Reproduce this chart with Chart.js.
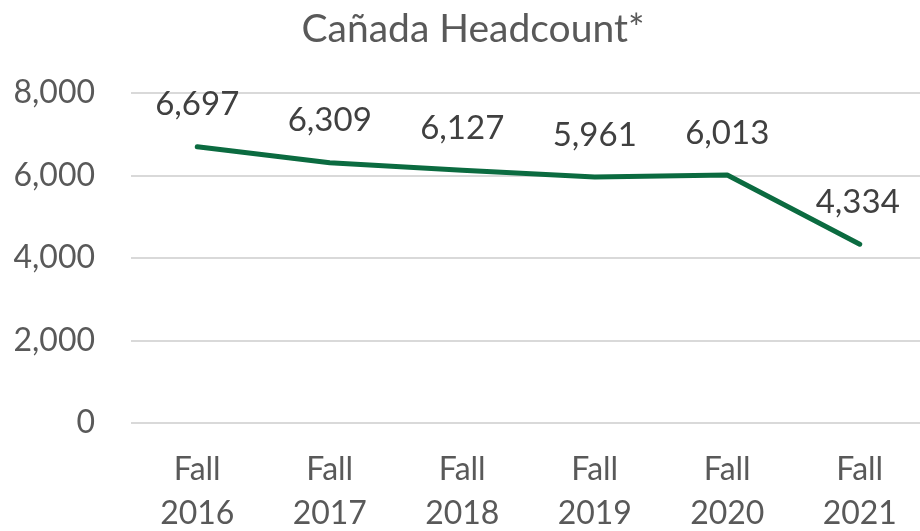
<!DOCTYPE html>
<html>
<head>
<meta charset="utf-8">
<script src="https://cdn.jsdelivr.net/npm/chart.js@4.4.0/dist/chart.umd.min.js"></script>
<style>
html,body{margin:0;padding:0;background:#fff;overflow:hidden;}
#wrap{position:relative;width:926px;height:531px;}
</style>
</head>
<body>
<div id="wrap"><canvas id="c" width="926" height="531"></canvas></div>
<script>
const categories = [["Fall","2016"],["Fall","2017"],["Fall","2018"],["Fall","2019"],["Fall","2020"],["Fall","2021"]];
const headcount = [6697, 6309, 6127, 5961, 6013, 4334];
const yTicks = [0, 2000, 4000, 6000, 8000];
const titleText = "Cañada Headcount*";

const FONT = "Lato";

const labelPlugin = {
  id: 'pointLabels',
  afterDatasetsDraw(chart) {
    const ctx = chart.ctx;
    const meta = chart.getDatasetMeta(0);
    ctx.save();
    ctx.font = "33px " + FONT;
    ctx.fillStyle = "#404040";
    ctx.textAlign = "center";
    ctx.textBaseline = "middle";
    meta.data.forEach((pt, i) => {
      ctx.fillText(headcount[i].toLocaleString('en-US'), pt.x - (i === 5 ? 2 : 0), pt.y - 42);
    });
    ctx.restore();
  }
};

const titlePlugin = {
  id: 'customTitle',
  afterDraw(chart) {
    const ctx = chart.ctx;
    ctx.save();
    ctx.font = "39px " + FONT;
    ctx.fillStyle = "#595959";
    ctx.textAlign = "center";
    ctx.textBaseline = "middle";
    ctx.fillText(titleText, 473, 29);
    ctx.restore();
  }
};

new Chart(document.getElementById('c'), {
  type: 'line',
  data: {
    labels: categories,
    datasets: [{
      data: headcount,
      borderColor: '#0B6B40',
      borderWidth: 5,
      borderCapStyle: 'round',
      borderJoinStyle: 'round',
      pointRadius: 0,
      tension: 0,
      fill: false
    }]
  },
  options: {
    responsive: false,
    animation: false,
    layout: { padding: { top: 93, right: 0, left: 0, bottom: 0 } },
    plugins: { legend: { display: false }, tooltip: { enabled: false }, title: { display: false } },
    scales: {
      x: {
        offset: true,
        grid: { display: false, drawTicks: false },
        border: { display: false },
        ticks: { color: '#595959', font: { family: FONT, size: 32, lineHeight: 1.375 }, padding: 25, maxRotation: 0, autoSkip: false },
        afterFit(scale) { scale.height = 108; }
      },
      y: {
        min: 0, max: 8000,
        afterBuildTicks(scale) { scale.ticks = yTicks.map(v => ({ value: v })); },
        grid: { color: '#d9d9d9', lineWidth: 2, drawTicks: false },
        border: { display: false },
        ticks: { color: '#595959', font: { family: FONT, size: 32 }, padding: 36,
          callback: v => v.toLocaleString('en-US') },
        afterFit(scale) { scale.width = 131; }
      }
    }
  },
  plugins: [labelPlugin, titlePlugin]
});
</script>
</body>
</html>
